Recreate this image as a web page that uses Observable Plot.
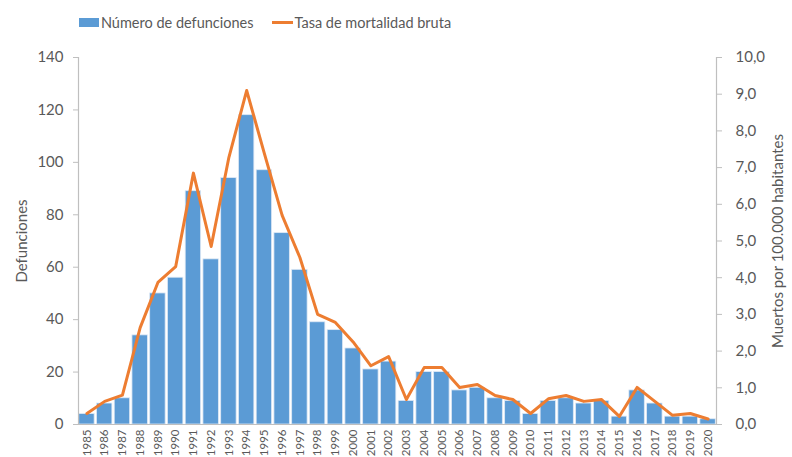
<!DOCTYPE html>
<html>
<head>
<meta charset="utf-8">
<script src="https://cdn.jsdelivr.net/npm/d3@7"></script>
<script src="https://cdn.jsdelivr.net/npm/@observablehq/plot@0.6"></script>
<style>
  body { margin: 0; background: #fff; font-family: Lato, sans-serif; }
  #legend { height: 45px; width: 530px; display: flex; justify-content: center; align-items: center; gap: 18px; font-size: 14.5px; color: #595959; box-sizing: border-box; }
  .item { display: flex; align-items: center; gap: 2px; }
  .sw-bar { width: 20px; height: 9px; background: #5B9BD5; }
  .sw-line { width: 21px; height: 3px; background: #ED7D31; }
</style>
</head>
<body>
<div id="legend">
  <div class="item"><span class="sw-bar"></span><span>Número de defunciones</span></div>
  <div class="item"><span class="sw-line"></span><span>Tasa de mortalidad bruta</span></div>
</div>
<div id="chart"></div>
<script>
const years = ["1985","1986","1987","1988","1989","1990","1991","1992","1993","1994","1995","1996","1997","1998","1999","2000","2001","2002","2003","2004","2005","2006","2007","2008","2009","2010","2011","2012","2013","2014","2015","2016","2017","2018","2019","2020"];
const deaths = [4,8,10,34,50,56,89,63,94,118,97,73,59,39,36,29,21,24,9,20,20,13,14,10,9,4,9,10,8,9,3,13,8,3,3,2];
const rate = [0.30,0.63,0.80,2.64,3.87,4.30,6.85,4.85,7.28,9.10,7.38,5.70,4.55,3.00,2.78,2.25,1.60,1.85,0.68,1.55,1.55,1.01,1.09,0.79,0.68,0.30,0.70,0.79,0.63,0.68,0.22,1.01,0.63,0.25,0.30,0.15];
const leftTicks = [0,20,40,60,80,100,120,140];
const rightTicks = [0,1,2,3,4,5,6,7,8,9,10];
const leftTitle = "Defunciones";
const rightTitle = "Muertos por 100.000 habitantes";
const scaleFactor = 14; // 140 / 10

const data = years.map((y, i) => ({year: y, deaths: deaths[i], rate: rate[i]}));
const fmt = d => d.toFixed(1).replace(".", ",");
const gray = "#595959";
const axisGray = "#bfbfbf";

const chart = Plot.plot({
  width: 792,
  height: 412,
  marginTop: 12,
  marginBottom: 33,
  marginLeft: 78,
  marginRight: 76,
  style: { fontFamily: "Lato, sans-serif", color: gray, background: "white" },
  x: { type: "band", domain: years, paddingInner: 0.13, paddingOuter: 0.04, round: false },
  y: { domain: [0, 140] },
  marks: [
    Plot.barY(data, { x: "year", y: "deaths", fill: "#5B9BD5", stroke: "#dfe9f5", strokeWidth: 0.8 }),
    Plot.lineY(data, { x: "year", y: d => d.rate * scaleFactor, stroke: "#ED7D31", strokeWidth: 3, strokeLinejoin: "round" }),
    Plot.ruleY([0], { stroke: axisGray, strokeWidth: 1.2 }),
    Plot.frame({ anchor: "left", stroke: axisGray, strokeWidth: 1.2 }),
    Plot.frame({ anchor: "right", stroke: axisGray, strokeWidth: 1.2 }),
    Plot.axisX({ tickSize: 0, tickPadding: 5, tickRotate: -90, fontSize: 11.5, fill: gray, label: null }),
    Plot.axisY(leftTicks, { anchor: "left", tickSize: 5, tickPadding: 10, stroke: axisGray, fontSize: 15, fill: gray,
      label: leftTitle, labelAnchor: "center", labelArrow: "none", labelOffset: 62 }),
    Plot.axisY(rightTicks.map(d => d * scaleFactor), { anchor: "right", tickSize: 5, tickPadding: 14, stroke: axisGray, fontSize: 15, fill: gray,
      tickFormat: d => fmt(d / scaleFactor),
      label: rightTitle, labelAnchor: "center", labelArrow: "none", labelOffset: 66 })
  ]
});
document.getElementById("chart").appendChild(chart);
</script>
</body>
</html>
